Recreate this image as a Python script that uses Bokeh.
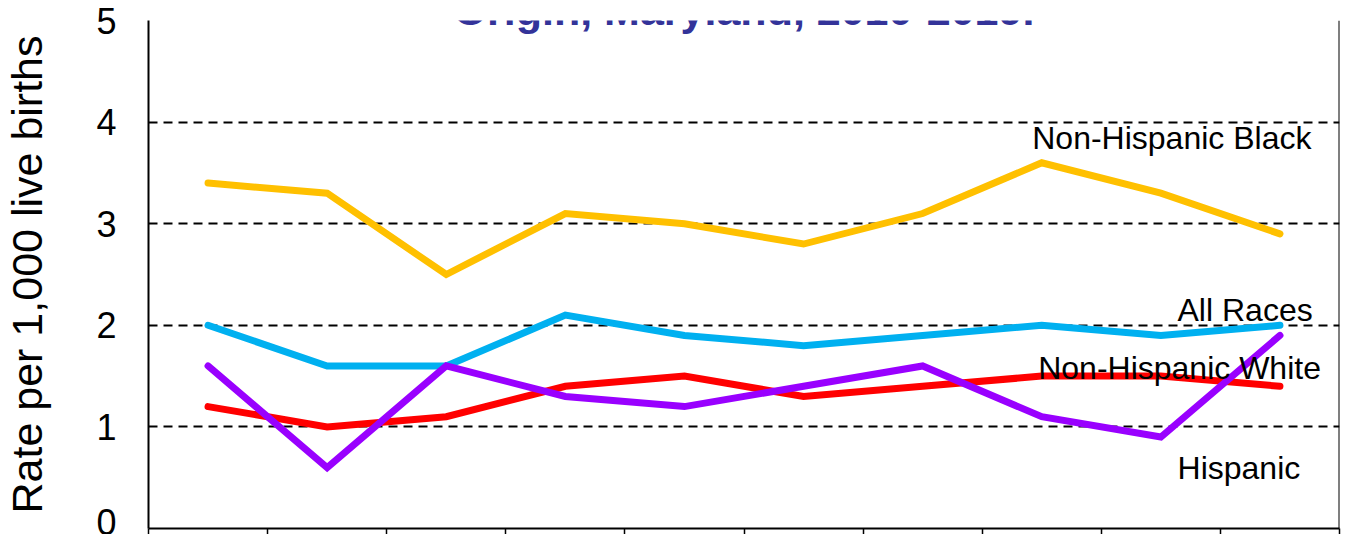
from bokeh.plotting import figure
from bokeh.models import Range1d, FixedTicker, Span, Label
from bokeh.embed import file_html
from bokeh.resources import INLINE

years = [2010, 2011, 2012, 2013, 2014, 2015, 2016, 2017, 2018, 2019]
nh_black = [3.4, 3.3, 2.5, 3.1, 3.0, 2.8, 3.1, 3.6, 3.3, 2.9]
all_races = [2.0, 1.6, 1.6, 2.1, 1.9, 1.8, 1.9, 2.0, 1.9, 2.0]
nh_white = [1.2, 1.0, 1.1, 1.4, 1.5, 1.3, 1.4, 1.5, 1.5, 1.4]
hispanic = [1.6, 0.6, 1.6, 1.3, 1.2, 1.4, 1.6, 1.1, 0.9, 1.9]
series_names = ["Non-Hispanic Black", "All Races", "Non-Hispanic White", "Hispanic"]
y_ticks = [0, 1, 2, 3, 4, 5]
title_text = "Origin, Maryland, 2010-2019."
y_label = "Rate per 1,000 live births"

colors = ["#FFC000", "#00B0F0", "#FF0000", "#9900FF"]
FONT = "Liberation Sans"

p = figure(width=1342, height=534, output_backend="svg", toolbar_location=None,
           x_range=Range1d(2009.5, 2019.5), y_range=Range1d(0, 5),
           min_border_left=148, min_border_right=3, min_border_top=20, min_border_bottom=6)
p.outline_line_color = None
p.background_fill_color = "white"
p.border_fill_color = "white"

# axes
p.yaxis.ticker = FixedTicker(ticks=y_ticks)
p.yaxis.major_tick_out = 0
p.yaxis.major_tick_in = 0
p.yaxis.minor_tick_out = 0
p.yaxis.minor_tick_in = 0
p.yaxis.axis_line_width = 2
p.yaxis.axis_line_color = "black"
p.yaxis.major_label_text_font = FONT
p.yaxis.major_label_text_font_size = "36px"
p.yaxis.major_label_text_color = "black"
p.yaxis.major_label_standoff = 32
p.yaxis.axis_label = y_label
p.yaxis.axis_label_text_font = FONT
p.yaxis.axis_label_text_font_size = "43px"
p.yaxis.axis_label_text_font_style = "normal"
p.yaxis.axis_label_text_color = "black"
p.yaxis.axis_label_standoff = 42

x_bounds = [y - 0.5 for y in years] + [years[-1] + 0.5]
p.xaxis.ticker = FixedTicker(ticks=x_bounds)
p.xaxis.major_label_overrides = {t: "" for t in x_bounds}
p.xaxis.major_label_text_font_size = "0px"
p.xaxis.major_label_standoff = 0
p.xaxis.major_tick_out = 6
p.xaxis.major_tick_in = 0
p.xaxis.major_tick_line_width = 1.5
p.xaxis.minor_tick_out = 0
p.xaxis.minor_tick_in = 0
p.xaxis.axis_line_width = 2
p.xaxis.axis_line_color = "black"

p.xgrid.grid_line_color = None
p.ygrid.ticker = FixedTicker(ticks=y_ticks[1:])
p.ygrid.grid_line_color = "black"
p.ygrid.grid_line_dash = "9 6"
p.ygrid.grid_line_width = 2

p.add_layout(Span(location=years[-1] + 0.5, dimension="height", line_color="black", line_width=2))

for vals, col in zip([nh_black, all_races, nh_white, hispanic], colors):
    p.line(years, vals, line_color=col, line_width=7, line_cap="round", line_join="miter")

label_pos = [(2016.92, 3.84), (2018.14, 2.15), (2016.97, 1.58), (2018.14, 0.60)]
for name, (lx, ly) in zip(series_names, label_pos):
    p.add_layout(Label(x=lx, y=ly, text=name, text_font=FONT, text_font_size="32px",
                       text_color="black", text_align="left", text_baseline="alphabetic"))

p.add_layout(Label(x=2014.5, y=5.1, text=title_text, text_font=FONT, text_font_size="43px",
                   text_font_style="bold", text_color="#333399", text_align="center",
                   text_baseline="alphabetic"))

open("out.html", "w").write(file_html(p, INLINE))
